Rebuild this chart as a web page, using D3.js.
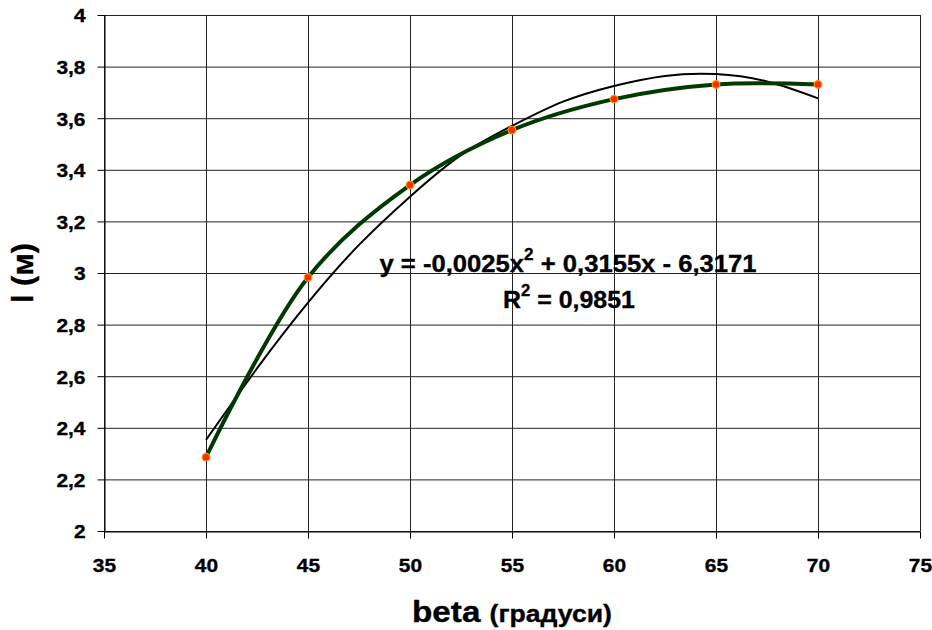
<!DOCTYPE html>
<html>
<head>
<meta charset="utf-8">
<script src="https://cdn.jsdelivr.net/npm/d3@7"></script>
<style>
    body { margin: 0; background: #fff; }
    text { font-family: "Liberation Sans", Arial, sans-serif; font-weight: bold; fill: #000; stroke: #000; stroke-width: 0.35px; }
    .axis text { font-weight: bold; font-family: "Liberation Sans", Arial, sans-serif; }
    .grid line { stroke: #222; stroke-width: 1; }
    .axis path, .axis line { stroke: #000; }
</style>
</head>
<body>
<div id="chart"></div>
<script>
// measured points
const betaValues = [40, 45, 50, 55, 60, 65, 70];
const lengthValues = [2.286, 2.983, 3.341, 3.554, 3.674, 3.731, 3.731];

// polynomial trendline
const trendBeta = [40, 42.5, 45, 47.5, 50, 52.5, 55, 57.5, 60, 62.5, 65, 67.5, 70];
const trendLength = [2.353, 2.63, 2.885, 3.109, 3.296, 3.457, 3.57, 3.664, 3.725, 3.764, 3.771, 3.742, 3.677];

const xTicks = [35, 40, 45, 50, 55, 60, 65, 70, 75];
const yTicks = [2, 2.2, 2.4, 2.6, 2.8, 3, 3.2, 3.4, 3.6, 3.8, 4];

const equationText = "y = -0,0025x";
const equationRest = " + 0,3155x - 6,3171";
const rSquaredText = " = 0,9851";

const svg = d3.select("#chart").append("svg")
    .attr("width", 932)
    .attr("height", 630);

const margin = {top: 15, right: 12, bottom: 99, left: 104};
const width = +svg.attr("width") - margin.left - margin.right;
const height = +svg.attr("height") - margin.top - margin.bottom;
const g = svg.append("g").attr("transform", "translate(" + margin.left + "," + margin.top + ")");

const x = d3.scaleLinear().domain([35, 75]).range([0, width]);
const y = d3.scaleLinear().domain([2, 4]).range([height, 0]);

const fmt = d => String(+d.toFixed(1)).replace(".", ",");
const stretch = 1.1; // the reference glyphs are a little wider than Arial

// grid
g.append("g")
    .attr("class", "grid")
    .selectAll("line.h")
    .data(yTicks)
    .enter().append("line")
        .attr("x1", 0).attr("x2", width)
        .attr("y1", d => y(d) + 0.5).attr("y2", d => y(d) + 0.5);

g.select(".grid")
    .selectAll("line.v")
    .data(xTicks)
    .enter().append("line")
        .attr("x1", d => x(d) + 0.5).attr("x2", d => x(d) + 0.5)
        .attr("y1", 0).attr("y2", height);

// axes
const xAxis = g.append("g")
    .attr("class", "axis")
    .attr("transform", "translate(0," + (height + 0.5) + ")")
    .call(d3.axisBottom(x).tickValues(xTicks).tickSize(7).tickSizeOuter(0).tickFormat(fmt));
xAxis.attr("font-family", null).attr("font-size", null);
xAxis.selectAll("text")
    .attr("dy", 0).attr("y", 41)
    .attr("transform", "scale(" + stretch + ",1)")
    .style("font-size", "19px");

const yAxis = g.append("g")
    .attr("class", "axis")
    .attr("transform", "translate(0.5,0)")
    .call(d3.axisLeft(y).tickValues(yTicks).tickSize(7).tickSizeOuter(0).tickFormat(fmt));
yAxis.attr("font-family", null).attr("font-size", null);
yAxis.selectAll("text")
    .attr("x", -19 / stretch).attr("dy", "0.36em")
    .attr("transform", "scale(" + stretch + ",1)")
    .style("font-size", "19px");

// trendline
const trendLine = d3.line()
    .x((d, i) => x(trendBeta[i]))
    .y(d => y(d))
    .curve(d3.curveNatural);

g.append("path")
    .datum(trendLength)
    .attr("fill", "none")
    .attr("stroke", "#000")
    .attr("stroke-width", 2)
    .attr("d", trendLine);

// smoothed data line
const dataLine = d3.line()
    .x((d, i) => x(betaValues[i]))
    .y(d => y(d))
    .curve(d3.curveCatmullRom.alpha(0.5));

g.append("path")
    .datum(lengthValues)
    .attr("fill", "none")
    .attr("stroke", "#003a00")
    .attr("stroke-width", 4)
    .attr("d", dataLine);

g.selectAll("circle.datum")
    .data(lengthValues)
    .enter().append("circle")
        .attr("class", "datum")
        .attr("r", 3.8)
        .attr("cx", (d, i) => x(betaValues[i]))
        .attr("cy", d => y(d))
        .attr("fill", "#ff2a00")
        .attr("stroke", "#ff9900")
        .attr("stroke-width", 1.2);

// trendline label
const eq = svg.append("text")
    .attr("x", 568)
    .attr("y", 272)
    .attr("text-anchor", "middle")
    .attr("textLength", 377)
    .attr("lengthAdjust", "spacingAndGlyphs")
    .style("font-size", "24px");
eq.append("tspan").text(equationText);
eq.append("tspan").attr("dy", -12).style("font-size", "16px").text("2");
eq.append("tspan").attr("dy", 12).text(equationRest);

const r2 = svg.append("text")
    .attr("x", 569)
    .attr("y", 308)
    .attr("text-anchor", "middle")
    .attr("textLength", 132)
    .attr("lengthAdjust", "spacingAndGlyphs")
    .style("font-size", "24px");
r2.append("tspan").text("R");
r2.append("tspan").attr("dy", -12).style("font-size", "16px").text("2");
r2.append("tspan").attr("dy", 12).text(rSquaredText);

// axis titles
const xTitle = svg.append("text")
    .attr("x", 512)
    .attr("y", 622)
    .attr("text-anchor", "middle")
    .attr("textLength", 200)
    .attr("lengthAdjust", "spacingAndGlyphs")
    .style("font-size", "30px");
xTitle.append("tspan").text("beta ");
xTitle.append("tspan").style("font-size", "24px").text("(градуси)");

svg.append("text")
    .attr("transform", "translate(33,273) rotate(-90)")
    .attr("text-anchor", "middle")
    .attr("textLength", 60)
    .attr("lengthAdjust", "spacingAndGlyphs")
    .style("font-size", "29px")
    .text("l (м)");
</script>
</body>
</html>
